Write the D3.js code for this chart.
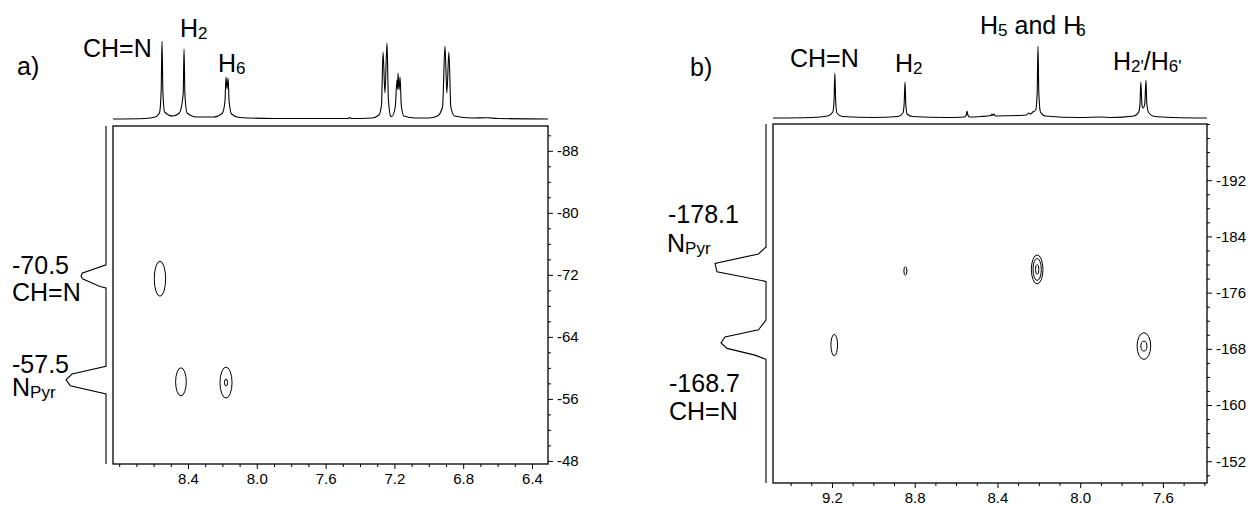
<!DOCTYPE html>
<html>
<head>
<meta charset="utf-8">
<script src="https://cdn.jsdelivr.net/npm/d3@7"></script>
<style>
    body { margin: 0; background: #fff; }
    svg { font-family: Arial, "Liberation Sans", sans-serif; }
    .tick line { stroke: #000; }
    .frame { fill: none; stroke: #000; stroke-width: 1.3; }
    .trace { fill: none; stroke: #000; stroke-width: 1.1; }
    .contour { fill: none; stroke: #000; stroke-width: 1; }
</style>
</head>
<body>
<svg id="chart" width="1251" height="505"></svg>
<script>
// ---- panel a) ----
const aXLabels = [8.4, 8.0, 7.6, 7.2, 6.8, 6.4];
const aYLabels = [-88, -80, -72, -64, -56, -48];
const aXDomain = [8.836, 6.307];
const aYDomain = [-91.2, -47.6];
// 1H projection: [ppm, intensity]
const aTop = [
    [8.836, 0], [8.65, 0.5], [8.59, 2], [8.566, 6], [8.556, 28], [8.551, 78], [8.546, 28], [8.536, 7],
    [8.49, 3], [8.45, 6], [8.428, 25], [8.423, 70], [8.418, 25], [8.405, 6], [8.35, 2], [8.25, 2],
    [8.2, 6], [8.185, 18], [8.179, 42], [8.173, 30], [8.167, 41], [8.161, 18], [8.147, 5],
    [8.1, 1.5], [7.9, 0.5], [7.6, 0.5], [7.47, 0.5], [7.46, 1.5], [7.45, 0.5],
    [7.33, 1], [7.29, 4], [7.275, 14], [7.266, 67], [7.255, 26], [7.243, 76], [7.235, 20], [7.222, 3],
    [7.215, 2.5], [7.195, 12], [7.185, 39], [7.181, 30], [7.179, 46], [7.173, 29], [7.167, 42], [7.16, 14], [7.145, 3],
    [7.08, 1], [7.0, 1], [6.95, 3], [6.92, 12], [6.906, 73], [6.895, 26], [6.883, 67], [6.872, 12], [6.85, 3],
    [6.75, 1], [6.66, 1.3], [6.6, 0.5], [6.307, 0]
];
// 15N projection: [shift, intensity]
const aLeft = [
    [-91.2, 0], [-73.3, 0], [-72.2, 24], [-71.8, 25], [-71.45, 23], [-70.5, 6], [-70.3, 0],
    [-60.2, 0], [-59.2, 34], [-58.45, 40], [-57.7, 35.7], [-56.65, 0], [-47.6, 0]
];
// cross peaks: 1H ppm, 15N ppm, half widths
const aCross = [
    { h: 8.563, n: -71.5, dh: 0.033, dn: 2.26 },
    { h: 8.441, n: -58.2, dh: 0.031, dn: 1.81 },
    { h: 8.179, n: -58.1, dh: 0.035, dn: 2.0 },
    { h: 8.179, n: -58.1, dh: 0.009, dn: 0.45 }
];

// ---- panel b) ----
const bXLabels = [9.2, 8.8, 8.4, 8.0, 7.6];
const bYLabels = [-192, -184, -176, -168, -160, -152];
const bXDomain = [9.485, 7.387];
const bYDomain = [-200, -148.9];
const bTop = [
    [9.485, 0], [9.3, 0.5], [9.22, 2], [9.196, 6], [9.19, 17], [9.186, 45], [9.182, 17], [9.176, 5], [9.15, 1.5],
    [9.0, 0.5], [8.88, 1.5], [8.857, 5], [8.851, 14], [8.847, 36], [8.843, 14], [8.837, 4], [8.81, 1.5],
    [8.65, 0.5], [8.56, 1], [8.551, 3], [8.547, 7], [8.543, 3], [8.535, 1],
    [8.48, 1.5], [8.43, 2.5], [8.427, 4], [8.423, 2.5], [8.417, 4], [8.41, 2],
    [8.3, 2.5], [8.26, 3], [8.248, 5], [8.24, 4], [8.229, 6],
    [8.215, 8], [8.208, 25], [8.204, 72], [8.2, 25], [8.192, 6], [8.17, 2],
    [8.0, 0.5], [7.9, 1], [7.85, 0.5],
    [7.74, 2], [7.717, 6], [7.711, 14], [7.707, 36], [7.701, 12], [7.695, 10], [7.688, 14], [7.682, 38], [7.678, 14], [7.668, 5], [7.64, 1.5],
    [7.55, 0.5], [7.387, 0]
];
const bLeft = [
    [-200, 0], [-182.5, 0], [-181.5, 7.5], [-180.15, 51], [-178.96, 49], [-177.6, 0],
    [-172.1, 0], [-170.7, 7.5], [-169.7, 41], [-168.85, 45], [-168.06, 39], [-167.1, 11], [-166.5, 0], [-148.9, 0]
];
const bCross = [
    { h: 9.189, n: -168.53, dh: 0.016, dn: 1.52 },
    { h: 8.845, n: -179.08, dh: 0.0073, dn: 0.6 },
    { h: 8.208, n: -179.3, dh: 0.028, dn: 2.06 },
    { h: 8.208, n: -179.3, dh: 0.020, dn: 1.56 },
    { h: 8.208, n: -179.3, dh: 0.008, dn: 0.71 },
    { h: 7.692, n: -168.39, dh: 0.033, dn: 1.9 },
    { h: 7.692, n: -168.39, dh: 0.0145, dn: 0.71 }
];

const svg = d3.select('#chart');
const fontFamily = 'Arial, "Liberation Sans", sans-serif';

function label(x, y, parts) {
    const t = svg.append('text')
        .attr('x', x)
        .attr('y', y)
        .attr('font-size', 25)
        .attr('fill', '#000');
    let prevSub = false;
    parts.forEach(function(p) {
        const sub = p.charAt(0) === '_';
        const sp = t.append('tspan').text(sub ? p.slice(1) : p);
        if (sub) {
            sp.attr('font-size', 17).attr('dy', prevSub ? 0 : 2);
        } else if (prevSub) {
            sp.attr('dy', -2);
        }
        prevSub = sub;
    });
    return t;
}

function styleAxis(s) {
    s.select('.domain').remove();
    s.attr('font-size', 15).attr('font-family', fontFamily);
    s.selectAll('.tick text').attr('fill', '#000')
        .text(function() { return d3.select(this).text().replace('\u2212', '-'); });
}

function drawPanel(c) {
    const x = d3.scaleLinear().domain(c.xDomain).range([c.left, c.right]);
    const y = d3.scaleLinear().domain(c.yDomain).range([c.top, c.bottom]);
    const g = svg.append('g');

    const xMinor = d3.range(Math.ceil(c.xDomain[1] * 10), Math.floor(c.xDomain[0] * 10) + 1)
        .map(function(v) { return v / 10; })
        .filter(function(v) { return c.xLabels.every(function(l) { return Math.abs(l - v) > 1e-6; }); });
    const yMinor = d3.range(Math.ceil(c.yDomain[0] / 2), Math.floor(c.yDomain[1] / 2) + 1)
        .map(function(v) { return v * 2; })
        .filter(function(v) { return c.yLabels.indexOf(v) < 0; });

    // bottom axis
    g.append('g')
        .attr('transform', 'translate(0,' + c.bottom + ')')
        .call(d3.axisBottom(x).tickValues(xMinor).tickSize(3).tickFormat(''))
        .call(styleAxis);
    g.append('g')
        .attr('transform', 'translate(0,' + c.bottom + ')')
        .call(d3.axisBottom(x).tickValues(c.xLabels).tickSize(5).tickPadding(4).tickFormat(d3.format('.1f')))
        .call(styleAxis);

    // right axis
    g.append('g')
        .attr('transform', 'translate(' + c.right + ',0)')
        .call(d3.axisRight(y).tickValues(yMinor).tickSize(3).tickFormat(''))
        .call(styleAxis);
    g.append('g')
        .attr('transform', 'translate(' + c.right + ',0)')
        .call(d3.axisRight(y).tickValues(c.yLabels).tickSize(5).tickPadding(4).tickFormat(d3.format('d')))
        .call(styleAxis);

    g.append('rect')
        .attr('class', 'frame')
        .attr('x', c.left)
        .attr('y', c.top)
        .attr('width', c.right - c.left)
        .attr('height', c.bottom - c.top);

    // 1H projection on top
    const ti = d3.scaleLinear().domain([0, 100]).range([c.topBase, c.topBase - 100]);
    g.append('path')
        .datum(c.top1D)
        .attr('class', 'trace')
        .attr('d', d3.line()
            .x(function(d) { return x(d[0]); })
            .y(function(d) { return ti(d[1]); })
            .curve(d3.curveMonotoneX));

    // 15N projection on the left
    const li = d3.scaleLinear().domain([0, 100]).range([c.leftBase, c.leftBase - 100]);
    g.append('path')
        .datum(c.left1D)
        .attr('class', 'trace')
        .attr('d', d3.line()
            .x(function(d) { return li(d[1]); })
            .y(function(d) { return y(d[0]); }));

    // contours
    g.selectAll('.contour')
        .data(c.cross)
        .enter().append('ellipse')
        .attr('class', 'contour')
        .attr('cx', function(d) { return x(d.h); })
        .attr('cy', function(d) { return y(d.n); })
        .attr('rx', function(d) { return Math.abs(x(d.h + d.dh) - x(d.h)); })
        .attr('ry', function(d) { return Math.abs(y(d.n + d.dn) - y(d.n)); });
}

drawPanel({
    xDomain: aXDomain, yDomain: aYDomain, xLabels: aXLabels, yLabels: aYLabels,
    left: 113, right: 548, top: 126, bottom: 464, topBase: 119, leftBase: 106,
    top1D: aTop, left1D: aLeft, cross: aCross
});
drawPanel({
    xDomain: bXDomain, yDomain: bYDomain, xLabels: bXLabels, yLabels: bYLabels,
    left: 773, right: 1207, top: 124, bottom: 483, topBase: 118, leftBase: 766,
    top1D: bTop, left1D: bLeft, cross: bCross
});

// annotations a)
label(17, 75, ['a)']);
label(83, 57, ['CH=N']);
label(180, 37, ['H', '_2']);
label(218, 72, ['H', '_6']);
label(12, 274, ['-70.5']);
label(12, 301, ['CH=N']);
label(12, 373, ['-57.5']);
label(12, 396, ['N', '_Pyr']);

// annotations b)
label(690, 76, ['b)']);
label(790, 67, ['CH=N']);
label(895, 72, ['H', '_2']);
const h56 = label(980, 34, ['H', '_5', ' and H', '_6']);
h56.select('tspan:last-child').attr('dx', -5);
label(1113, 70, ['H', "_2'", '/H', "_6'"]);
label(668, 223, ['-178.1']);
label(667, 252, ['N', '_Pyr']);
label(669, 392, ['-168.7']);
label(669, 420, ['CH=N']);
</script>
</body>
</html>
